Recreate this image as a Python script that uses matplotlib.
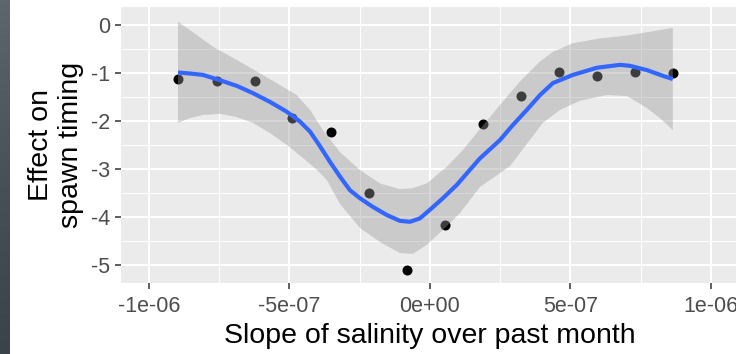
import numpy as np
import matplotlib
matplotlib.use("Agg")
import matplotlib.pyplot as plt
from matplotlib.ticker import FixedLocator

plt.rcParams['font.family'] = ['Liberation Sans', 'DejaVu Sans']

# observed points
pt_x = [-8.97e-7, -7.59e-7, -6.23e-7, -4.91e-7, -3.53e-7, -2.17e-7, -8.2e-8,
        5.3e-8, 1.89e-7, 3.24e-7, 4.59e-7, 5.95e-7, 7.30e-7, 8.65e-7]
pt_y = [-1.12, -1.17, -1.16, -1.93, -2.22, -3.50, -5.10,
        -4.16, -2.06, -1.48, -0.98, -1.06, -0.98, -1.00]

# smooth fit (values in units of 1e-7 for x)
fit_x7 = [-8.97, -8.55, -8.08, -7.48, -6.87, -6.30, -5.70, -5.09, -4.63, -4.27,
          -3.92, -3.56, -3.20, -2.85, -2.49, -2.03, -1.53, -1.07, -0.71, -0.36,
          0.0, 0.46, 0.96, 1.42, 1.78, 2.49, 2.96, 3.45, 3.92, 4.38,
          5.09, 5.95, 6.77, 7.12, 7.73, 8.30, 8.65]
fit_y = [-0.99, -1.01, -1.04, -1.15, -1.27, -1.42, -1.60, -1.81, -2.01, -2.22,
         -2.52, -2.85, -3.16, -3.44, -3.61, -3.79, -3.96, -4.08, -4.10, -4.03,
         -3.85, -3.61, -3.33, -3.02, -2.78, -2.40, -2.08, -1.77, -1.46, -1.21,
         -1.04, -0.89, -0.83, -0.85, -0.94, -1.06, -1.125]

# confidence band, upper edge
up_x7 = [-8.97, -8.30, -7.73, -6.87, -6.16, -5.34, -4.74, -4.27, -3.81, -3.20,
         -2.49, -1.78, -1.07, -0.61, -0.11, 0.61, 1.18, 1.78, 2.49, 3.20,
         3.92, 4.38, 5.09, 6.05, 7.02, 7.73, 8.65]
up_y = [0.07, -0.21, -0.45, -0.73, -0.97, -1.25, -1.46, -1.77, -2.19, -2.65,
        -3.02, -3.30, -3.42, -3.40, -3.30, -2.95, -2.60, -2.17, -1.67, -1.18,
        -0.76, -0.56, -0.38, -0.28, -0.22, -0.15, -0.06]

# confidence band, lower edge
lo_x7 = [-8.97, -8.55, -8.08, -7.48, -6.87, -6.30, -5.70, -5.09, -4.52, -4.02,
         -3.67, -3.20, -2.49, -1.78, -1.07, -0.61, -0.11, 0.46, 1.07, 1.78,
         2.24, 2.85, 3.45, 4.02, 4.63, 5.34, 6.30, 7.02, 7.73, 8.19, 8.65]
lo_y = [-2.04, -1.94, -1.875, -1.85, -1.92, -2.04, -2.25, -2.50, -2.77, -3.02,
        -3.23, -3.73, -4.23, -4.52, -4.75, -4.77, -4.58, -4.27, -3.92, -3.375,
        -3.19, -2.94, -2.48, -2.04, -1.77, -1.58, -1.46, -1.48, -1.73, -1.94,
        -2.19]

x_ticks = [-1e-6, -5e-7, 0.0, 5e-7, 1e-6]
x_tick_labels = ['-1e-06', '-5e-07', '0e+00', '5e-07', '1e-06']
y_ticks = [0, -1, -2, -3, -4, -5]
y_tick_labels = ['0', '-1', '-2', '-3', '-4', '-5']

W, H = 736, 354
fig = plt.figure(figsize=(W / 100, H / 100), dpi=100)
fig.patch.set_facecolor('white')

# dark strip at the left edge
sax = fig.add_axes([0, 0, 10 / W, 1])
grad = np.linspace(0, 1, 100).reshape(-1, 1)
sax.imshow(grad, aspect='auto', cmap=matplotlib.colors.LinearSegmentedColormap.from_list(
    's', ['#5e656d', '#4a5058', '#3c4249']), extent=[0, 1, 0, 1])
sax.axis('off')

left, right, top, bottom = 121, 736, 7, 283
ax = fig.add_axes([left / W, (H - bottom) / H, (right - left) / W, (bottom - top) / H])
ax.set_facecolor('#EBEBEB')
ax.set_xlim(-1.100e-6, 1.090e-6)
ax.set_ylim(-5.375, 0.375)

ax.xaxis.set_major_locator(FixedLocator(x_ticks))
ax.set_xticklabels(x_tick_labels)
ax.xaxis.set_minor_locator(FixedLocator([-7.5e-7, -2.5e-7, 2.5e-7, 7.5e-7]))
ax.yaxis.set_major_locator(FixedLocator(y_ticks))
ax.set_yticklabels(y_tick_labels)
ax.yaxis.set_minor_locator(FixedLocator([-0.5, -1.5, -2.5, -3.5, -4.5]))

ax.grid(which='major', color='white', lw=1.5)
ax.grid(which='minor', color='white', lw=0.75)
ax.set_axisbelow(True)
for s in ax.spines.values():
    s.set_visible(False)
ax.tick_params(which='major', length=4, width=1.1, color='#333333',
               labelsize=15.5, labelcolor='#4D4D4D')
ax.tick_params(axis='x', pad=5)
ax.tick_params(axis='y', pad=4)
ax.tick_params(which='minor', length=0)

fx = np.array(fit_x7) * 1e-7
ux = np.array(up_x7) * 1e-7
lx = np.array(lo_x7) * 1e-7

ax.scatter(pt_x, pt_y, s=52, color='black', zorder=2, linewidths=0)
ax.fill(np.concatenate([ux, lx[::-1]]), np.concatenate([up_y, lo_y[::-1]]),
        color='#999999', alpha=0.4, lw=0, zorder=3)
ax.plot(fx, fit_y, color='#3366FF', lw=3, zorder=4,
        solid_capstyle='butt', solid_joinstyle='round')

fig.text(430 / W, 1 - 336 / H,
         'Slope of salinity over past month', ha='center', va='center',
         fontsize=20.5, color='black')
fig.text(56 / W, 1 - 145 / H, 'Effect on\nspawn timing', rotation=90,
         ha='center', va='center', fontsize=20.5, color='black', linespacing=1.25)

fig.savefig('out.png', dpi=100)
